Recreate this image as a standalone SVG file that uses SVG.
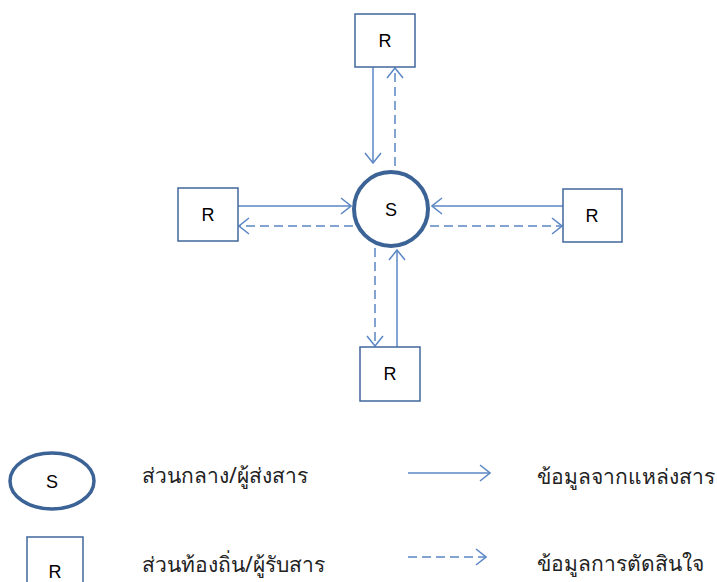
<svg xmlns="http://www.w3.org/2000/svg" width="717" height="582" viewBox="0 0 717 582">
  <defs>
    <style>
      .box { fill: #ffffff; stroke: #41679d; stroke-width: 1.5; }
      .hub { fill: #ffffff; stroke: #3c6396; stroke-width: 4; }
      .lbl { font-family: "Liberation Sans", Arial, sans-serif; font-size: 18px; fill: #000000; text-anchor: middle; }
      .th { font-family: "Noto Sans", "DejaVu Sans", Tahoma, sans-serif; font-size: 21px; fill: #222222; }
      .solid { fill: none; stroke: #5b86c4; stroke-width: 1.5; marker-end: url(#head); }
      .dash { fill: none; stroke: #5b86c4; stroke-width: 1.5; stroke-dasharray: 9 5; marker-end: url(#head); }
    </style>
    <marker id="head" viewBox="0 0 12 18" refX="11" refY="9" markerWidth="12" markerHeight="18" markerUnits="userSpaceOnUse" orient="auto">
      <path d="M1,1 L11,9 L1,17" fill="none" stroke="#5b86c4" stroke-width="1.5"/>
    </marker>
  </defs>

  <rect width="717" height="582" fill="#ffffff"/>

  <!-- connectors -->
  <g id="connectors">
    <!-- top -->
    <line class="solid" x1="373" y1="67" x2="373" y2="163"/>
    <line class="dash" x1="395" y1="166" x2="395" y2="68"/>
    <!-- left -->
    <line class="solid" x1="238" y1="206" x2="351" y2="206"/>
    <line class="dash" x1="353" y1="226" x2="239" y2="226"/>
    <!-- right -->
    <line class="solid" x1="563" y1="206" x2="432" y2="206"/>
    <line class="dash" x1="430" y1="226" x2="562" y2="226"/>
    <!-- bottom -->
    <line class="dash" x1="375" y1="248" x2="375" y2="346"/>
    <line class="solid" x1="397" y1="347" x2="397" y2="250"/>
  </g>

  <!-- central sender -->
  <g id="node-s">
    <circle class="hub" cx="391" cy="209" r="37"/>
    <text class="lbl" x="391" y="216">S</text>
  </g>

  <!-- receivers -->
  <g id="node-r-top">
    <rect class="box" x="355" y="14" width="60" height="53"/>
    <text class="lbl" x="385" y="47">R</text>
  </g>
  <g id="node-r-left">
    <rect class="box" x="178" y="188" width="60" height="53"/>
    <text class="lbl" x="208" y="221">R</text>
  </g>
  <g id="node-r-right">
    <rect class="box" x="563" y="189" width="59" height="53"/>
    <text class="lbl" x="592" y="222">R</text>
  </g>
  <g id="node-r-bottom">
    <rect class="box" x="360" y="347" width="60" height="54"/>
    <text class="lbl" x="390" y="380">R</text>
  </g>

  <!-- legend -->
  <g id="legend">
    <ellipse class="hub" cx="52" cy="481" rx="42" ry="28" style="stroke-width:3.5"/>
    <text class="lbl" x="52" y="488">S</text>
    <text class="th" x="142" y="483">ส่วนกลาง/ผู้ส่งสาร</text>

    <rect class="box" x="27" y="537" width="56" height="56"/>
    <text class="lbl" x="55" y="578">R</text>
    <text class="th" x="142" y="572">ส่วนท้องถิ่น/ผู้รับสาร</text>

    <line class="solid" x1="408" y1="473" x2="490" y2="473"/>
    <text class="th" x="537" y="484">ข้อมูลจากแหล่งสาร</text>

    <line class="dash" x1="408" y1="557" x2="486" y2="557"/>
    <text class="th" x="537" y="571">ข้อมูลการตัดสินใจ</text>
  </g>
</svg>
